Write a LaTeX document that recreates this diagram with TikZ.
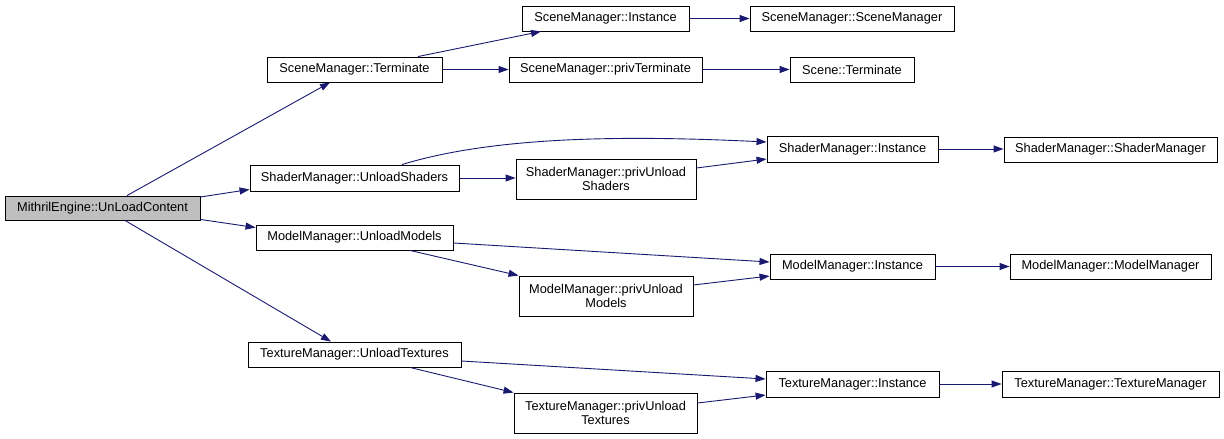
\documentclass[tikz,border=0pt]{standalone}
\usepackage{fontspec}
\setmainfont{Liberation Sans}
\usetikzlibrary{arrows.meta}
\definecolor{edgeblue}{HTML}{191970}
\definecolor{rootgray}{HTML}{BFBFBF}
\tikzset{
  fn/.style={draw=black, line width=0.9pt, fill=white, inner sep=0pt, align=center,
    font=\fontsize{12.8}{14}\selectfont},
  root/.style={fn, fill=rootgray},
  edge/.style={draw=edgeblue, line width=0.9pt, -{Triangle[length=10pt,width=7pt]}},
}
\begin{document}
\begin{tikzpicture}[x=1pt,y=-1pt]
\useasboundingbox (0,0) rectangle (1224,439);
% nodes
\node[root, minimum width=195pt, minimum height=24pt] (uc) at (102.5,208) {MithrilEngine::UnLoadContent};
\node[fn, minimum width=175pt, minimum height=25pt] (smt) at (354.5,69.5) {SceneManager::Terminate};
\node[fn, minimum width=167pt, minimum height=25pt] (smi) at (605.5,18.5) {SceneManager::Instance};
\node[fn, minimum width=204pt, minimum height=25pt] (sms) at (852,18.5) {SceneManager::SceneManager};
\node[fn, minimum width=193pt, minimum height=25pt] (smp) at (605.5,69.5) {SceneManager::privTerminate};
\node[fn, minimum width=124pt, minimum height=25pt] (st) at (852,69.5) {Scene::Terminate};
\node[fn, minimum width=209pt, minimum height=26pt] (us) at (354.5,178) {ShaderManager::UnloadShaders};
\node[fn, minimum width=180pt, minimum height=40pt] (ssp) at (606,179) {ShaderManager::privUnload\\Shaders};
\node[fn, minimum width=171pt, minimum height=26pt] (ssi) at (852.5,149) {ShaderManager::Instance};
\node[fn, minimum width=213pt, minimum height=25pt] (sss) at (1110.5,149.5) {ShaderManager::ShaderManager};
\node[fn, minimum width=197pt, minimum height=25pt] (um) at (354.5,237.5) {ModelManager::UnloadModels};
\node[fn, minimum width=174pt, minimum height=40pt] (mmp) at (606,296) {ModelManager::privUnload\\Models};
\node[fn, minimum width=165pt, minimum height=25pt] (mmi) at (852.5,266.5) {ModelManager::Instance};
\node[fn, minimum width=201pt, minimum height=25pt] (mmm) at (1110.5,266.5) {ModelManager::ModelManager};
\node[fn, minimum width=213pt, minimum height=25pt] (ut) at (354.5,354.5) {TextureManager::UnloadTextures};
\node[fn, minimum width=183pt, minimum height=40pt] (tp) at (605.5,413) {TextureManager::privUnload\\Textures};
\node[fn, minimum width=173pt, minimum height=26pt] (ti) at (852.5,384) {TextureManager::Instance};
\node[fn, minimum width=217pt, minimum height=26pt] (tt) at (1110.5,384) {TextureManager::TextureManager};
% edges
\draw[edge] ([xshift=24.5pt]uc.north) -- ([xshift=-24.5pt]smt.south);
\draw[edge] ([yshift=11pt]uc.east) -- ([yshift=2pt]us.south west);
\draw[edge] ([yshift=1pt]uc.south east) -- ([yshift=-3pt]um.north west);
\draw[edge] ([xshift=22.5pt]uc.south) -- ([xshift=-23.5pt]ut.north);
\draw[edge] ([xshift=63.5pt]smt.north) -- ([xshift=-64.5pt]smi.south);
\draw[edge] (smt.east) -- (smp.west);
\draw[edge] (smi.east) -- (sms.west);
\draw[edge] (smp.east) -- (st.west);
\draw[edge] ([xshift=47.5pt]us.north) .. controls +(98,-30) and +(-127,-6) .. ([yshift=7pt]ssi.west);
\draw[edge] (us.east) -- (us.east -| ssp.west);
\draw[edge] ([yshift=11pt]ssp.east) -- ([yshift=-10pt]ssi.west);
\draw[edge] (ssi.east) -- (ssi.east -| sss.west);
\draw[edge] ([yshift=-5.5pt]um.east) -- ([yshift=4.5pt]mmi.west);
\draw[edge] ([xshift=55.5pt]um.south) -- (mmp.north west);
\draw[edge] ([yshift=11pt]mmp.east) -- ([yshift=-9.5pt]mmi.west);
\draw[edge] (mmi.east) -- (mmm.west);
\draw[edge] ([yshift=-6.5pt]ut.east) -- ([yshift=5pt]ti.west);
\draw[edge] ([xshift=55.5pt]ut.south) -- (tp.north west);
\draw[edge] ([yshift=10pt]tp.east) -- ([yshift=-11pt]ti.west);
\draw[edge] (ti.east) -- (tt.west);
\end{tikzpicture}
\end{document}
